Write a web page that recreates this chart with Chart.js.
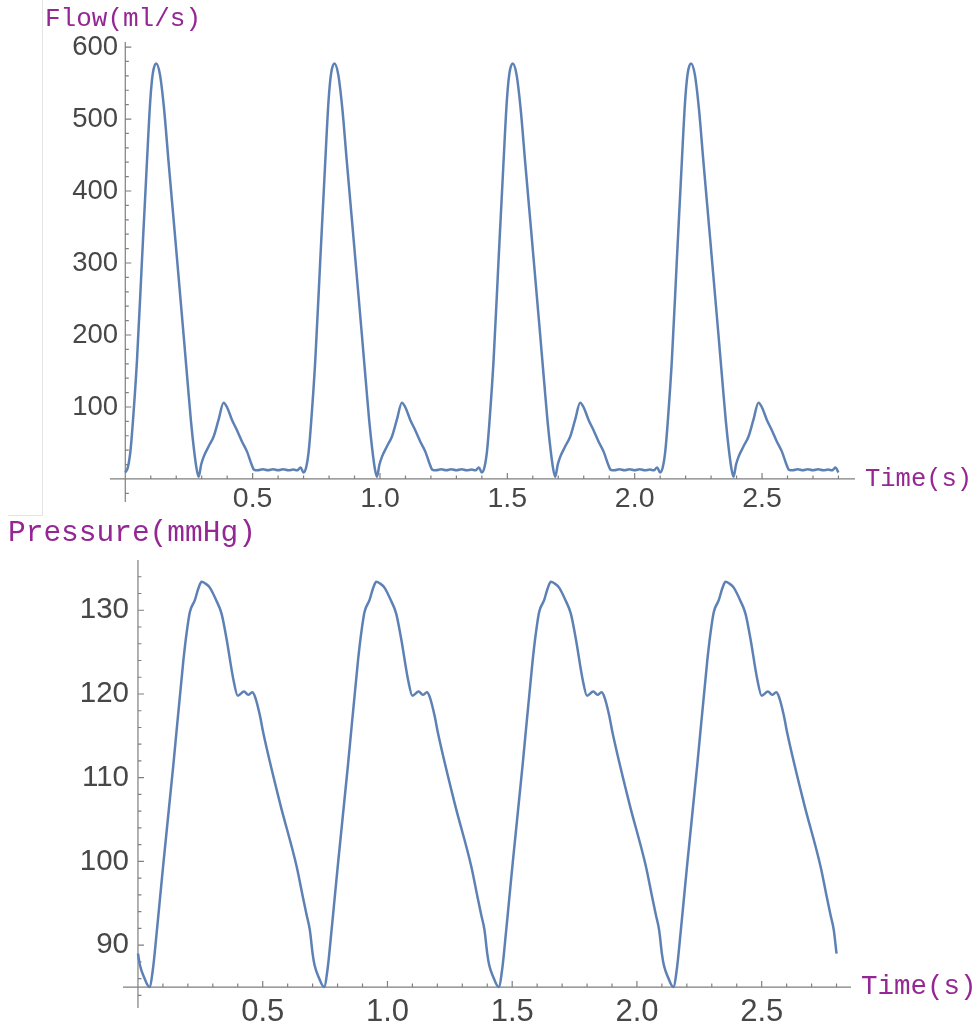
<!DOCTYPE html>
<html>
<head>
<meta charset="utf-8">
<title>Flow and pressure</title>
<script src="https://cdn.jsdelivr.net/npm/chart.js@4.4.1/dist/chart.umd.min.js"></script>
<style>
  html, body { margin: 0; padding: 0; background: #fff; }
  #wrap { position: relative; width: 979px; height: 1025px; overflow: hidden; }
  #flow { position: absolute; left: 0; top: 0; }
  #pressure { position: absolute; left: 0; top: 515px; }
  .rule { position: absolute; background: #e4e4e4; }
</style>
</head>
<body>
<div id="wrap">
  <canvas id="flow" width="979" height="515"></canvas>
  <canvas id="pressure" width="979" height="510"></canvas>
  <div class="rule" style="left:42px;top:0;width:1px;height:516px"></div>
  <div class="rule" style="left:8px;top:515px;width:35px;height:1px"></div>
</div>
<script>
// four beats of 0.7 s each
var flowTime = [
  0.000, 0.010, 0.020, 0.030, 0.046, 0.065, 0.085, 0.098, 0.108, 0.121, 0.136, 0.152, 0.170, 0.196, 0.229,
  0.245, 0.258, 0.270, 0.280, 0.288, 0.298, 0.308, 0.327, 0.347, 0.366, 0.386, 0.399, 0.419, 0.438, 0.458,
  0.478, 0.497, 0.505, 0.520, 0.540, 0.560, 0.580, 0.600, 0.620, 0.640, 0.660, 0.675, 0.688,
  0.700, 0.710, 0.720, 0.730, 0.746, 0.765, 0.785, 0.798, 0.808, 0.821, 0.836, 0.852, 0.870, 0.896, 0.929,
  0.945, 0.958, 0.970, 0.980, 0.988, 0.998, 1.008, 1.027, 1.047, 1.066, 1.086, 1.099, 1.119, 1.138, 1.158,
  1.178, 1.197, 1.205, 1.220, 1.240, 1.260, 1.280, 1.300, 1.320, 1.340, 1.360, 1.375, 1.388,
  1.400, 1.410, 1.420, 1.430, 1.446, 1.465, 1.485, 1.498, 1.508, 1.521, 1.536, 1.552, 1.570, 1.596, 1.629,
  1.645, 1.658, 1.670, 1.680, 1.688, 1.698, 1.708, 1.727, 1.747, 1.766, 1.786, 1.799, 1.819, 1.838, 1.858,
  1.878, 1.897, 1.905, 1.920, 1.940, 1.960, 1.980, 2.000, 2.020, 2.040, 2.060, 2.075, 2.088,
  2.100, 2.110, 2.120, 2.130, 2.146, 2.165, 2.185, 2.198, 2.208, 2.221, 2.236, 2.252, 2.270, 2.296, 2.329,
  2.345, 2.358, 2.370, 2.380, 2.388, 2.398, 2.408, 2.427, 2.447, 2.466, 2.486, 2.499, 2.519, 2.538, 2.558,
  2.578, 2.597, 2.605, 2.620, 2.640, 2.660, 2.680, 2.700, 2.720, 2.740, 2.760, 2.775, 2.788,
  2.800
];
var flowValues = [
  9, 16, 38, 80, 165, 300, 440, 525, 563, 577, 562, 515, 440, 335, 200,
  133, 80, 40, 14, 3, 20, 31, 45, 59, 82, 106, 100, 82, 68, 52,
  38, 19, 13, 12, 13.5, 12, 13.5, 12, 13.5, 12, 13, 12, 16,
  9, 16, 38, 80, 165, 300, 440, 525, 563, 577, 562, 515, 440, 335, 200,
  133, 80, 40, 14, 3, 20, 31, 45, 59, 82, 106, 100, 82, 68, 52,
  38, 19, 13, 12, 13.5, 12, 13.5, 12, 13.5, 12, 13, 12, 16,
  9, 16, 38, 80, 165, 300, 440, 525, 563, 577, 562, 515, 440, 335, 200,
  133, 80, 40, 14, 3, 20, 31, 45, 59, 82, 106, 100, 82, 68, 52,
  38, 19, 13, 12, 13.5, 12, 13.5, 12, 13.5, 12, 13, 12, 16,
  9, 16, 38, 80, 165, 300, 440, 525, 563, 577, 562, 515, 440, 335, 200,
  133, 80, 40, 14, 3, 20, 31, 45, 59, 82, 106, 100, 82, 68, 52,
  38, 19, 13, 12, 13.5, 12, 13.5, 12, 13.5, 12, 13, 12, 16,
  9
];

var pressureTime = [
  0.000, 0.008, 0.024, 0.046, 0.061, 0.075, 0.088, 0.102, 0.142, 0.182, 0.195, 0.208, 0.228, 0.242, 0.255,
  0.270, 0.288, 0.315, 0.335, 0.355, 0.382, 0.400, 0.425, 0.442, 0.458, 0.470, 0.489, 0.502, 0.569, 0.636,
  0.662, 0.676, 0.689,
  0.700, 0.708, 0.724, 0.746, 0.761, 0.775, 0.788, 0.802, 0.842, 0.882, 0.895, 0.908, 0.928, 0.942, 0.955,
  0.970, 0.988, 1.015, 1.035, 1.055, 1.082, 1.100, 1.125, 1.142, 1.158, 1.170, 1.189, 1.202, 1.269, 1.336,
  1.362, 1.376, 1.389,
  1.400, 1.408, 1.424, 1.446, 1.461, 1.475, 1.488, 1.502, 1.542, 1.582, 1.595, 1.608, 1.628, 1.642, 1.655,
  1.670, 1.688, 1.715, 1.735, 1.755, 1.782, 1.800, 1.825, 1.842, 1.858, 1.870, 1.889, 1.902, 1.969, 2.036,
  2.062, 2.076, 2.089,
  2.100, 2.108, 2.124, 2.146, 2.161, 2.175, 2.188, 2.202, 2.242, 2.282, 2.295, 2.308, 2.328, 2.342, 2.355,
  2.370, 2.388, 2.415, 2.435, 2.455, 2.482, 2.500, 2.525, 2.542, 2.558, 2.570, 2.589, 2.602, 2.669, 2.736,
  2.762, 2.776, 2.789,
  2.800
];
var pressureValues = [
  89.0, 87.6, 86.2, 85.0, 87.4, 91.5, 95.5, 99.8, 111.6, 124.0, 127.3, 129.8, 131.2, 132.6, 133.4,
  133.2, 132.7, 131.1, 129.6, 126.6, 121.8, 119.8, 120.3, 119.9, 120.2, 119.6, 117.4, 115.4, 107.0, 99.4,
  95.6, 93.6, 91.8,
  89.0, 87.6, 86.2, 85.0, 87.4, 91.5, 95.5, 99.8, 111.6, 124.0, 127.3, 129.8, 131.2, 132.6, 133.4,
  133.2, 132.7, 131.1, 129.6, 126.6, 121.8, 119.8, 120.3, 119.9, 120.2, 119.6, 117.4, 115.4, 107.0, 99.4,
  95.6, 93.6, 91.8,
  89.0, 87.6, 86.2, 85.0, 87.4, 91.5, 95.5, 99.8, 111.6, 124.0, 127.3, 129.8, 131.2, 132.6, 133.4,
  133.2, 132.7, 131.1, 129.6, 126.6, 121.8, 119.8, 120.3, 119.9, 120.2, 119.6, 117.4, 115.4, 107.0, 99.4,
  95.6, 93.6, 91.8,
  89.0, 87.6, 86.2, 85.0, 87.4, 91.5, 95.5, 99.8, 111.6, 124.0, 127.3, 129.8, 131.2, 132.6, 133.4,
  133.2, 132.7, 131.1, 129.6, 126.6, 121.8, 119.8, 120.3, 119.9, 120.2, 119.6, 117.4, 115.4, 107.0, 99.4,
  95.6, 93.6, 91.8,
  89.0
];

// tick marks (all) and the ones that get a number
var timeTicks = [0.1, 0.2, 0.3, 0.4, 0.5, 0.6, 0.7, 0.8, 0.9, 1.0, 1.1, 1.2, 1.3, 1.4,
  1.5, 1.6, 1.7, 1.8, 1.9, 2.0, 2.1, 2.2, 2.3, 2.4, 2.5, 2.6, 2.7, 2.8];
var timeLabels = [0.5, 1.0, 1.5, 2.0, 2.5];
var flowTicks = [-20, 20, 40, 60, 80, 100, 120, 140, 160, 180, 200, 220, 240, 260, 280, 300,
  320, 340, 360, 380, 400, 420, 440, 460, 480, 500, 520, 540, 560, 580, 600];
var flowLabels = [100, 200, 300, 400, 500, 600];
var pressureTicks = [84, 86, 88, 90, 92, 94, 96, 98, 100, 102, 104, 106, 108, 110, 112, 114,
  116, 118, 120, 122, 124, 126, 128, 130, 132, 134];
var pressureLabels = [90, 100, 110, 120, 130];

var lineColor = '#5e81b5';
var axisColor = '#7f7f7f';
var labelColor = '#474747';
var titleColor = '#952795';
var monoFont = '"Liberation Mono", "DejaVu Sans Mono", monospace';
var sansFont = '"Liberation Sans", Arial, sans-serif';

function toPoints(ts, vs) {
  return ts.map(function (t, i) { return { x: t, y: vs[i] }; });
}

// label overflow must not push the plot area in
function noOverflow(s) {
  s.paddingTop = 0; s.paddingBottom = 0; s.paddingLeft = 0; s.paddingRight = 0;
}

// axes crossing at the origin, ticks pointing inward, names at the axis ends
var crossAxes = {
  id: 'crossAxes',
  beforeDatasetsDraw: function (chart, args, opts) {
    var ctx = chart.ctx, area = chart.chartArea, x = chart.scales.x, y = chart.scales.y;
    var ox = x.getPixelForValue(0), oy = y.getPixelForValue(opts.yCross);
    ctx.save();
    ctx.strokeStyle = axisColor;
    ctx.lineWidth = 1.2;
    ctx.beginPath();
    ctx.moveTo(area.left, oy); ctx.lineTo(area.right, oy);
    ctx.moveTo(ox, area.top); ctx.lineTo(ox, area.bottom);
    x.ticks.forEach(function (t) {
      var px = x.getPixelForValue(t.value);
      ctx.moveTo(px, oy); ctx.lineTo(px, oy - (t.label ? 6 : 3.5));
    });
    y.ticks.forEach(function (t) {
      var py = y.getPixelForValue(t.value);
      ctx.moveTo(ox, py); ctx.lineTo(ox + (t.label ? 6 : 3.5), py);
    });
    ctx.stroke();
    ctx.restore();
  },
  afterDraw: function (chart, args, opts) {
    var ctx = chart.ctx, area = chart.chartArea, y = chart.scales.y;
    var oy = y.getPixelForValue(opts.yCross);
    ctx.save();
    ctx.fillStyle = titleColor;
    ctx.textBaseline = 'middle';
    ctx.textAlign = 'left';
    ctx.font = opts.xTitleSize + 'px ' + monoFont;
    ctx.fillText(opts.xTitle, area.right + 10, oy);
    ctx.font = opts.yTitleSize + 'px ' + monoFont;
    ctx.fillText(opts.yTitle, opts.yTitlePos[0], opts.yTitlePos[1]);
    ctx.restore();
  }
};

function makeChart(id, cfg) {
  return new Chart(document.getElementById(id), {
    type: 'line',
    data: {
      datasets: [{
        data: cfg.points,
        borderColor: lineColor,
        borderWidth: 2.5,
        pointRadius: 0,
        fill: false,
        cubicInterpolationMode: 'monotone'
      }]
    },
    options: {
      responsive: false,
      animation: false,
      events: [],
      layout: { padding: cfg.padding },
      plugins: {
        legend: { display: false },
        tooltip: { enabled: false },
        crossAxes: {
          yCross: cfg.yMinCross,
          xTitle: 'Time(s)',
          xTitleSize: cfg.xTitleSize,
          yTitle: cfg.yTitle,
          yTitleSize: cfg.yTitleSize,
          yTitlePos: cfg.yTitlePos
        }
      },
      scales: {
        x: {
          type: 'linear',
          min: -0.06,
          max: cfg.xMax,
          position: { y: cfg.yMinCross },
          grid: { display: false, drawTicks: false },
          border: { display: false },
          afterBuildTicks: function (s) { s.ticks = timeTicks.map(function (v) { return { value: v }; }); },
          afterFit: noOverflow,
          ticks: {
            autoSkip: false,
            maxRotation: 0,
            padding: cfg.xPad,
            color: labelColor,
            font: { family: sansFont, size: cfg.xLabelSize },
            callback: function (v) { return timeLabels.indexOf(v) >= 0 ? v.toFixed(1) : ''; }
          }
        },
        y: {
          type: 'linear',
          min: cfg.yMin,
          max: cfg.yMax,
          // labels sit just left of the t = 0 axis
          position: { x: cfg.yLabelAt },
          grid: { display: false, drawTicks: false },
          border: { display: false },
          afterBuildTicks: function (s) { s.ticks = cfg.yTicks.map(function (v) { return { value: v }; }); },
          afterFit: noOverflow,
          ticks: {
            autoSkip: false,
            color: labelColor,
            font: { family: sansFont, size: cfg.yLabelSize },
            callback: function (v) { return cfg.yLabels.indexOf(v) >= 0 ? String(v) : ''; }
          }
        }
      }
    },
    plugins: [crossAxes]
  });
}

makeChart('flow', {
  points: toPoints(flowTime, flowValues),
  padding: { left: 110, right: 124, top: 42, bottom: 13 },
  xMax: 2.865,
  yMin: -32, yMax: 607, yMinCross: 0,
  yTicks: flowTicks, yLabels: flowLabels,
  xLabelSize: 28.5, yLabelSize: 27.5, xPad: 3, yLabelAt: -0.028,
  yTitle: 'Flow(ml/s)', yTitleSize: 26, yTitlePos: [45, 19],
  xTitleSize: 25.5
});

makeChart('pressure', {
  points: toPoints(pressureTime, pressureValues),
  padding: { left: 123, right: 128, top: 45, bottom: 17 },
  xMax: 2.858,
  yMin: 82.5, yMax: 136, yMinCross: 85,
  yTicks: pressureTicks, yLabels: pressureLabels,
  xLabelSize: 31, yLabelSize: 29.5, xPad: 7, yLabelAt: -0.036,
  yTitle: 'Pressure(mmHg)', yTitleSize: 29.5, yTitlePos: [8, 18],
  xTitleSize: 27.5
});
</script>
</body>
</html>
